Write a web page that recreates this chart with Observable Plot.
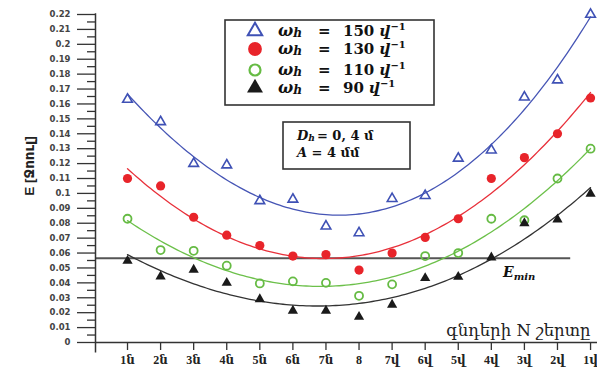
<!DOCTYPE html>
<html><head><meta charset="utf-8">
<script src="https://cdn.jsdelivr.net/npm/d3@7"></script>
<script src="https://cdn.jsdelivr.net/npm/@observablehq/plot@0.6"></script>
<style>body{margin:0;background:#fff} svg{display:block}</style>
</head><body><div id="chart"></div>
<script>
// ---- data ----
const layers = ["1ն","2ն","3ն","4ն","5ն","6ն","7ն","8","7վ","6վ","5վ","4վ","3վ","2վ","1վ"];
const e150 = [0.163,0.148,0.120,0.119,0.095,0.096,0.078,0.0735,0.0965,0.0985,0.1235,0.129,0.1645,0.176,0.220];
const e130 = [0.110,0.105,0.084,0.072,0.065,0.058,0.059,0.0486,0.060,0.0705,0.083,0.110,0.124,0.140,0.164];
const e110 = [0.083,0.062,0.0615,0.0515,0.0396,0.041,0.040,0.0313,0.039,0.058,0.060,0.083,0.082,0.110,0.130];
const e90  = [0.0548,0.0443,0.0488,0.040,0.029,0.0213,0.0213,0.0172,0.0253,0.0432,0.044,0.057,0.080,0.0825,0.0998];
const omegas = ["150","130","110","90"];
const Emin = 0.0565;
const yMajor = [0,0.01,0.02,0.03,0.04,0.05,0.06,0.07,0.08,0.09,0.1,0.11,0.12,0.13,0.14,0.15,0.16,0.17,0.18,0.19,0.2,0.21,0.22];
const yMinor = [0.005,0.015,0.025,0.035,0.045,0.055,0.065,0.075,0.085,0.095,0.105,0.115,0.125,0.135,0.145,0.155,0.165,0.175,0.185,0.195,0.205,0.215];
const yTitle = "E [Ջոուլ]";
const xTitle = "գնդերի N շերտը";
const colors = ["#3f51b5","#e8242a","#66bb44","#1a1a1a"];
const curveColors = ["#4655b5","#e8303a","#6cc04a","#333333"];

// ---- cubic least-squares trend ----
function polyfit(ys, deg) {
  const n = deg + 1;
  const A = Array.from({length:n}, () => new Array(n+1).fill(0));
  ys.forEach((y, i) => {
    const t = (i - 7) / 7;
    for (let r = 0; r < n; r++) {
      for (let c = 0; c < n; c++) A[r][c] += Math.pow(t, r + c);
      A[r][n] += y * Math.pow(t, r);
    }
  });
  for (let k = 0; k < n; k++) {
    let p = k;
    for (let r = k+1; r < n; r++) if (Math.abs(A[r][k]) > Math.abs(A[p][k])) p = r;
    [A[k], A[p]] = [A[p], A[k]];
    for (let r = 0; r < n; r++) if (r !== k) {
      const f = A[r][k] / A[k][k];
      for (let c = k; c <= n; c++) A[r][c] -= f * A[k][c];
    }
  }
  const coef = A.map((row, k) => row[n] / row[k]);
  return x => { const t = (x - 7) / 7; return coef.reduce((s, c, k) => s + c * Math.pow(t, k), 0); };
}

const series = [e150, e130, e110, e90];
const points = [];
series.forEach((arr, s) => arr.forEach((v, i) => points.push({s, i, v})));
const fits = [];
series.forEach((arr, s) => {
  const f = polyfit(arr, 3);
  for (let k = 0; k <= 140; k++) fits.push({s, x: k/10, y: f(k/10)});
});

const xmin = -0.968, xmax = 14.21;
const plot = Plot.plot({
  width: 597, height: 370,
  marginLeft: 95, marginRight: 0, marginTop: 14, marginBottom: 28,
  style: {background: "white", overflow: "visible"},
  x: {domain: [xmin, xmax], axis: null},
  y: {domain: [0, 0.22], axis: null},
  marks: [
    Plot.ruleY([Emin], {x1: xmin, x2: 13.4, stroke: "#555", strokeWidth: 2}),
    Plot.axisY({ticks: yMajor, tickSize: 18, tickPadding: 7, label: null,
      tickFormat: d => String(+d.toFixed(2)), fontSize: 8.5, fontWeight: "bold",
      fontFamily: "DejaVu Sans", fill: "#444", stroke: "#333", strokeWidth: 1.3,
      style: "letter-spacing:1.2px"}),
    Plot.axisY({ticks: yMinor, tickSize: 8, label: null, tickFormat: () => "", stroke: "#333", strokeWidth: 1.3}),
    Plot.ruleX([xmin], {y1: -0.007, y2: 0.2205, stroke: "#333", strokeWidth: 1.5}),
    Plot.ruleY([0], {stroke: "#333", strokeWidth: 1.5}),
    Plot.axisX({ticks: d3.range(layers.length), tickFormat: i => layers[i], tickSize: 8, tickPadding: 5,
      label: null, fontSize: 12, fontWeight: "bold", fontFamily: "Liberation Serif, DejaVu Serif", fill: "#222", stroke: "#333", strokeWidth: 1.3}),
    Plot.line(fits, {x: "x", y: "y", z: "s", stroke: d => curveColors[d.s], strokeWidth: 1.3}),
    Plot.dot(points.filter(d => d.s === 0), {x: "i", y: "v", symbol: "triangle", r: 3.6, stroke: colors[0], strokeWidth: 1.6, fill: "none"}),
    Plot.dot(points.filter(d => d.s === 1), {x: "i", y: "v", symbol: "circle", r: 4.6, fill: colors[1], stroke: "none"}),
    Plot.dot(points.filter(d => d.s === 2), {x: "i", y: "v", symbol: "circle", r: 4, stroke: colors[2], strokeWidth: 1.8, fill: "none"}),
    Plot.dot(points.filter(d => d.s === 3), {x: "i", y: "v", symbol: "triangle", r: 3.8, fill: colors[3], stroke: "none"}),
    Plot.text([xTitle], {frameAnchor: "bottom-right", dx: -7, dy: -7, textAnchor: "end", lineAnchor: "bottom",
      fontSize: 16.5, fontFamily: "DejaVu Serif", fill: "#222"})
  ]
});
document.getElementById("chart").appendChild(plot);

// ---- legend & annotations ----
const svg = d3.select(plot);
const sx = plot.scale("x"), sy = plot.scale("y");
const g = svg.append("g").attr("text-anchor", "start");
g.append("text").attr("transform", "translate(34,166) rotate(-90)").attr("text-anchor", "middle")
  .attr("font-family", "Liberation Sans, DejaVu Sans").attr("font-weight", "bold").attr("font-size", 13.5)
  .attr("fill", "#222").text(yTitle);
g.append("rect").attr("x", 225).attr("y", 20).attr("width", 209).attr("height", 85)
  .attr("fill", "white").attr("stroke", "#333").attr("stroke-width", 1.6);
const rowsY = [31, 49, 70, 88];
const sym = d3.symbol();
rowsY.forEach((yy, k) => {
  const m = g.append("path").attr("transform", `translate(255,${yy})`);
  if (k === 0) m.attr("d", sym.type(d3.symbolTriangle).size(90)()).attr("fill", "none").attr("stroke", colors[0]).attr("stroke-width", 2);
  if (k === 1) m.attr("d", sym.type(d3.symbolCircle).size(150)()).attr("fill", colors[1]);
  if (k === 2) m.attr("d", sym.type(d3.symbolCircle).size(95)()).attr("fill", "none").attr("stroke", colors[2]).attr("stroke-width", 2.2);
  if (k === 3) m.attr("d", sym.type(d3.symbolTriangle).size(110)()).attr("fill", colors[3]);
  const t = g.append("text").attr("x", 278).attr("y", yy + 5).attr("font-family", "DejaVu Serif")
    .attr("font-weight", "bold").attr("font-size", 15).attr("fill", "#111").attr("text-anchor", "start");
  t.append("tspan").attr("font-style", "italic").attr("font-size", 16).text("ω");
  t.append("tspan").attr("font-style", "italic").attr("font-size", 12).attr("dy", 1).text("հ");
  t.append("tspan").attr("x", 318).attr("dy", -1).text("=");
  t.append("tspan").attr("x", 343).text(omegas[k] + " ");
  t.append("tspan").attr("font-style", "italic").text("վ");
  t.append("tspan").attr("font-size", 10).attr("dy", -6).text("−1");
});
g.append("rect").attr("x", 283).attr("y", 122).attr("width", 127).attr("height", 47)
  .attr("fill", "white").attr("stroke", "#333").attr("stroke-width", 1.6);
const a1 = g.append("text").attr("x", 297).attr("y", 140).attr("font-family", "DejaVu Serif")
  .attr("font-weight", "bold").attr("font-size", 13).attr("fill", "#111").attr("text-anchor", "start");
a1.append("tspan").attr("font-style", "italic").text("D");
a1.append("tspan").attr("font-style", "italic").attr("font-size", 9).attr("dy", 1).text("հ");
a1.append("tspan").attr("dy", -1).attr("dx", 2).text("= 0, 4 մ");
const a2 = g.append("text").attr("x", 297).attr("y", 157).attr("font-family", "DejaVu Serif")
  .attr("font-weight", "bold").attr("font-size", 13).attr("fill", "#111").attr("text-anchor", "start");
a2.append("tspan").attr("font-style", "italic").text("A");
a2.append("tspan").text(" = 4 մմ");
const em = g.append("text").attr("x", sx.apply(11.37)).attr("y", sy.apply(0.0435))
  .attr("font-family", "DejaVu Serif").attr("font-weight", "bold").attr("font-style", "italic")
  .attr("font-size", 14).attr("fill", "#111").attr("text-anchor", "start");
em.append("tspan").text("E");
em.append("tspan").attr("font-size", 10).attr("dy", 3).text("min");
</script></body></html>
